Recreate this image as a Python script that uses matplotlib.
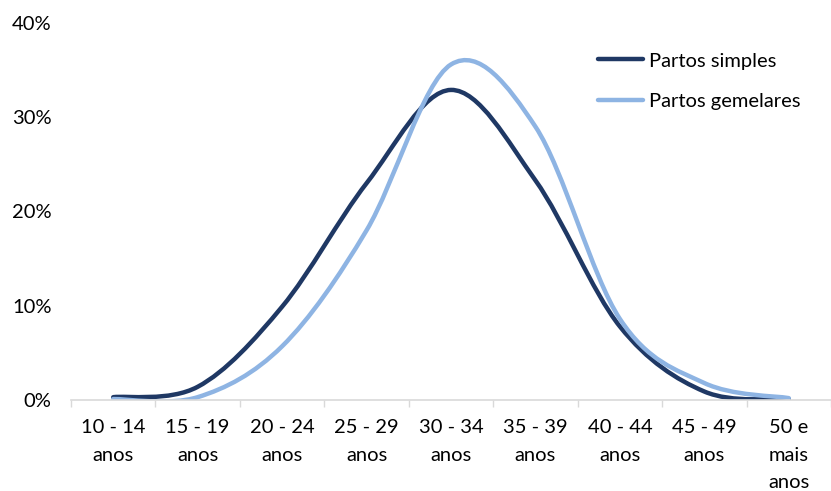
import matplotlib.pyplot as plt
from matplotlib.path import Path
from matplotlib.patches import PathPatch
from matplotlib.lines import Line2D
import numpy as np

# faixas etarias da mae
categorias = ['10 - 14\nanos', '15 - 19\nanos', '20 - 24\nanos', '25 - 29\nanos',
              '30 - 34\nanos', '35 - 39\nanos', '40 - 44\nanos', '45 - 49\nanos',
              '50 e\nmais\nanos']
# percentagens (%)
partos_simples = [0.3, 1.4, 9.9, 23.0, 32.9, 23.3, 7.8, 0.9, 0.1]
partos_gemelares = [0.1, 0.3, 5.7, 18.0, 35.6, 29.0, 8.6, 1.8, 0.2]

cor_simples = '#1F3864'
cor_gemelares = '#8EB4E3'

plt.rcParams['font.family'] = ['Lato', 'DejaVu Sans']

fig = plt.figure(figsize=(8.31, 4.91), dpi=100)
ax = fig.add_axes([71 / 831, 1 - 400 / 491, 1 - 71 / 831, 377 / 491])


def curva_suave(ax, ys, cor):
    # suavizacao tipo Excel: bezier cubica com tangentes de Catmull-Rom
    xs = np.arange(len(ys), dtype=float)
    pts = np.column_stack([xs, ys])
    n = len(pts)
    verts = [pts[0]]
    codes = [Path.MOVETO]
    for i in range(n - 1):
        p0 = pts[i - 1] if i > 0 else pts[i]
        p1 = pts[i]
        p2 = pts[i + 1]
        p3 = pts[i + 2] if i + 2 < n else pts[i + 1]
        c1 = p1 + (p2 - p0) / 6.0
        c2 = p2 - (p3 - p1) / 6.0
        verts += [c1, c2, p2]
        codes += [Path.CURVE4] * 3
    patch = PathPatch(Path(verts, codes), facecolor='none', edgecolor=cor,
                      lw=3.2, capstyle='round', joinstyle='round')
    ax.add_patch(patch)


curva_suave(ax, partos_simples, cor_simples)
curva_suave(ax, partos_gemelares, cor_gemelares)

ax.set_xlim(-0.5, len(categorias) - 0.5)
ax.set_ylim(0, 40)
ax.set_yticks([0, 10, 20, 30, 40])
ax.set_yticklabels(['0%', '10%', '20%', '30%', '40%'])
ax.set_xticks(range(len(categorias)))
ax.set_xticklabels(categorias, linespacing=1.75)
ax.set_xticks(np.arange(-0.5, len(categorias), 1.0), minor=True)

ax.tick_params(axis='x', which='major', length=0, pad=14, labelsize=14.5, colors='#000000')
ax.tick_params(axis='x', which='minor', length=5, color='#D9D9D9', width=1)
ax.tick_params(axis='y', length=0, pad=14, labelsize=14.5)

for s in ['top', 'right', 'left']:
    ax.spines[s].set_visible(False)
ax.spines['bottom'].set_color('#D9D9D9')
ax.spines['bottom'].set_linewidth(1.2)

handles = [Line2D([], [], color=cor_simples, lw=3.2, solid_capstyle='round'),
           Line2D([], [], color=cor_gemelares, lw=3.2, solid_capstyle='round')]
ax.legend(handles, ['Partos simples', 'Partos gemelares'], loc='upper left',
          bbox_to_anchor=(0.67, 0.97), frameon=False, fontsize=14.5,
          handlelength=2.2, handletextpad=0.3, labelspacing=1.15)

fig.savefig('out.png', dpi=100)
